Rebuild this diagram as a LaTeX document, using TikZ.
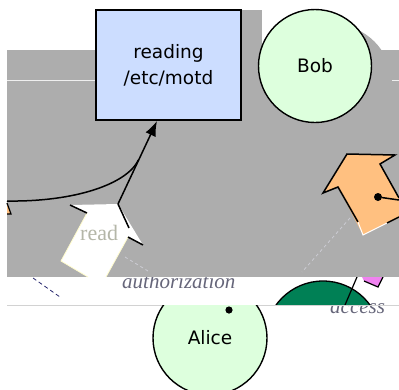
\documentclass[tikz,border=0pt]{standalone}
\usepackage{fontspec}
\setmainfont{Liberation Serif}
\newfontfamily\labelsans{DejaVu Sans}
\usetikzlibrary{arrows.meta}
\definecolor{bggray}{RGB}{173,173,173}
\definecolor{boxblue}{RGB}{204,221,255}
\definecolor{persongreen}{RGB}{221,255,221}
\definecolor{darkgreen}{RGB}{0,128,85}
\definecolor{orangefill}{RGB}{255,192,128}
\definecolor{pinkfill}{RGB}{240,130,240}
\definecolor{labelgray}{RGB}{102,102,122}
\definecolor{readgray}{RGB}{180,182,168}
\definecolor{navyline}{RGB}{40,40,110}
\definecolor{dashgray}{RGB}{205,205,212}
\tikzset{
  actionbox/.style={draw=black, line width=1.8pt, fill=boxblue, align=center,
    font=\labelsans\fontsize{18.5}{26}\selectfont, minimum width=145pt, minimum height=110pt, inner sep=0pt},
  person/.style={circle, draw=black, line width=1.4pt, fill=persongreen,
    font=\labelsans\fontsize{18.5}{22}\selectfont, inner sep=0pt},
  italiclabel/.style={font=\itshape\fontsize{21}{24}\selectfont, text=labelgray, inner sep=0pt},
  readlabel/.style={font=\fontsize{22}{24}\selectfont, text=readgray, inner sep=0pt},
  blockedge/.style={draw=black, line width=1.5pt},
  softedge/.style={draw=white!80!yellow, line width=0.8pt},
  flowline/.style={draw=black, line width=1.5pt},
  lightdash/.style={draw=dashgray, line width=0.8pt, dash pattern=on 3pt off 3pt},
  navydash/.style={draw=navyline, line width=0.8pt, dash pattern=on 4pt off 3pt},
}
\begin{document}
\begin{tikzpicture}[x=1pt,y=-1pt]
\useasboundingbox (0,0) rectangle (399,389);
% labels of the lower band (partly covered by the grey area)
\node[italiclabel, anchor=base west] (auth) at (122,288) {authorization};
\node[italiclabel, anchor=base west] (acc) at (330,313) {access};
% dark green disc, visible only in the band
\begin{scope}
  \clip (0,277) rectangle (399,305);
  \draw[fill=darkgreen, line width=1.3pt] (323,339) circle[radius=58pt];
\end{scope}
% pink flag and its pole
\fill[white] (357,277) -- (383,277) -- (378,287) -- cycle;
\fill[pinkfill] (362,277) -- (383,277) -- (378,287) -- (364,281) -- cycle;
\draw[line width=1.2pt] (364,281) -- (378,287) -- (383,277);
\coordinate (polebottom) at (345,305);
\coordinate (poletop) at (357,277);
\draw[line width=1.2pt] (polebottom) -- (poletop);
% band lines
\coordinate (bandl) at (7,305);
\coordinate (bandr) at (399,305);
\draw[gray!35, line width=0.6pt] (bandl) -- (bandr);
\coordinate (nd1) at (33,278);
\coordinate (nd2) at (60,297);
\draw[navydash] (nd1) -- (nd2);
% Alice, visible below the band
\begin{scope}
  \clip (0,305) rectangle (399,389);
  \node[person, minimum size=114pt] (alice) at (210,338) {Alice};
\end{scope}
\fill (229,310) circle[radius=3.6pt];
% grey area
\fill[bggray] (7,50) rectangle (399,277);
\coordinate (wl1) at (7,80);
\coordinate (wl2) at (399,80);
\draw[white!80!bggray, line width=0.9pt] (wl1) -- (wl2);
\fill[bggray] (241,10) rectangle (262,110);
\fill[bggray] (332,84) circle[radius=60pt];
% action box and Bob
\node[actionbox] (motd) at (168.5,65) {reading\\/etc/motd};
\node[person, minimum size=113pt] (bob) at (315,66) {Bob};
% light dashed lines on grey
\coordinate (d1a) at (125,257);
\coordinate (d1b) at (148,271);
\draw[lightdash] (d1a) -- (d1b);
\coordinate (d2a) at (350,218);
\coordinate (d2b) at (302,272);
\draw[lightdash] (d2a) -- (d2b);
% white "read" block arrow
\fill[white] (70,205) -- (87,213) -- (61,261) -- (88,277) -- (106,277) -- (128,237) -- (143,245) -- (118,204) -- cycle;
\draw[softedge] (87,213) -- (61,261) -- (88,277);
\draw[softedge] (106,277) -- (128,237);
\draw[blockedge] (70,205) -- (87,213);
\draw[blockedge] (118,204) -- (129,228);
\draw[blockedge] (128,237) -- (143,245);
\node[readlabel, anchor=base west] (readtxt) at (80,240) {read};
% orange block arrow
\fill[orangefill] (347,154) -- (395,155) -- (380,164) -- (399,198) -- (399,218) -- (387,223) -- (363,235) -- (338,187) -- (323,193) -- cycle;
\draw[blockedge, line join=miter] (399,198) -- (380,164) -- (395,155) -- (347,154) -- (323,193) -- (338,187) -- (358,222);
\draw[white, line width=1pt] (358,222) -- (363,235) -- (387,223);
\draw[blockedge] (387,223) -- (399,217);
\node[circle, fill=black, inner sep=0pt, minimum size=8pt] (odot) at (378,197) {};
\coordinate (oright) at (399,200);
\draw[line width=1.5pt] (odot) -- (oright);
% small orange tip at the left edge
\fill[orangefill] (7,203) -- (11,214) -- (7,214) -- cycle;
\draw[line width=1.2pt] (7,203) -- (11,214) -- (7,214);
% flow into the action box
\coordinate (readtip) at (118,204);
\coordinate (tip) at (157,121);
\coordinate (leftin) at (7,201);
\coordinate (merge) at (138.4,160);
\draw[flowline, -{Latex[length=15pt,width=11pt]}] (readtip) -- (tip);
\draw[flowline] (leftin) .. controls (75,202) and (127,184) .. (merge);
\end{tikzpicture}
\end{document}
